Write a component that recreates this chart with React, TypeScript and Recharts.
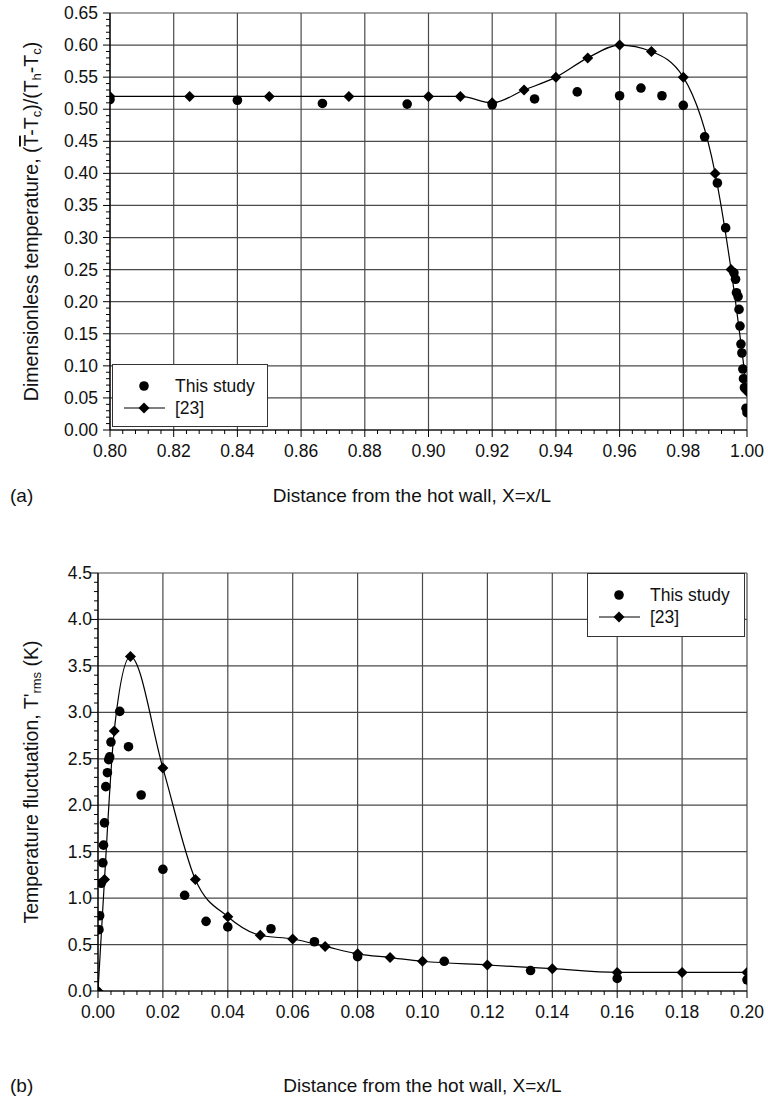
import React from 'react';
import { ComposedChart, Line, Scatter, XAxis, YAxis, CartesianGrid } from 'recharts';

const FONT = '"Liberation Sans", Arial, Helvetica, sans-serif';

// ---------- Chart (a): dimensionless temperature ----------
const aStudyX = [0.80, 0.84, 0.8667, 0.8933, 0.92, 0.9333, 0.9467, 0.96, 0.9667, 0.9733, 0.98, 0.9867, 0.9907, 0.9933, 0.9959, 0.9964, 0.9967, 0.9972, 0.9975, 0.9978, 0.9981, 0.9984, 0.9987, 0.9989, 0.9992, 0.9997, 1.0];
const aStudyY = [0.515, 0.514, 0.509, 0.508, 0.507, 0.516, 0.527, 0.521, 0.533, 0.521, 0.506, 0.457, 0.385, 0.315, 0.245, 0.235, 0.214, 0.208, 0.188, 0.162, 0.134, 0.120, 0.095, 0.080, 0.066, 0.034, 0.027];
const aRefX = [0.80, 0.825, 0.85, 0.875, 0.90, 0.91, 0.92, 0.93, 0.94, 0.95, 0.96, 0.97, 0.98, 0.99, 0.995, 1.0];
const aRefY = [0.52, 0.52, 0.52, 0.52, 0.52, 0.52, 0.51, 0.53, 0.55, 0.58, 0.60, 0.59, 0.55, 0.40, 0.25, 0.06];
const aXMajor = [0.80, 0.82, 0.84, 0.86, 0.88, 0.90, 0.92, 0.94, 0.96, 0.98, 1.00];
const aYMajor = [0, 0.05, 0.10, 0.15, 0.20, 0.25, 0.30, 0.35, 0.40, 0.45, 0.50, 0.55, 0.60, 0.65];
const aXMinorStep = 0.004;
const aYMinorStep = 0.01;

// ---------- Chart (b): temperature fluctuation ----------
const bStudyX = [0.0003, 0.0005, 0.001, 0.0015, 0.0017, 0.002, 0.0024, 0.0029, 0.0033, 0.0036, 0.004, 0.0067, 0.0094, 0.0133, 0.02, 0.0267, 0.0333, 0.04, 0.0533, 0.0667, 0.08, 0.1067, 0.1333, 0.16, 0.20];
const bStudyY = [0.66, 0.81, 1.16, 1.38, 1.57, 1.81, 2.20, 2.35, 2.49, 2.52, 2.68, 3.01, 2.63, 2.11, 1.31, 1.03, 0.75, 0.69, 0.67, 0.53, 0.37, 0.32, 0.22, 0.135, 0.12];
const bRefX = [0, 0.002, 0.005, 0.01, 0.02, 0.03, 0.04, 0.05, 0.06, 0.07, 0.08, 0.09, 0.10, 0.12, 0.14, 0.16, 0.18, 0.20];
const bRefY = [0, 1.2, 2.8, 3.6, 2.4, 1.2, 0.8, 0.6, 0.56, 0.48, 0.40, 0.36, 0.32, 0.28, 0.24, 0.20, 0.20, 0.20];
const bXMajor = [0, 0.02, 0.04, 0.06, 0.08, 0.10, 0.12, 0.14, 0.16, 0.18, 0.20];
const bYMajor = [0, 0.5, 1.0, 1.5, 2.0, 2.5, 3.0, 3.5, 4.0, 4.5];
const bXMinorStep = 0.004;
const bYMinorStep = 0.1;

const legendStudy = 'This study';
const legendRef = '[23]';

const zip = (xs: number[], ys: number[]) => xs.map((x, i) => ({ x, y: ys[i] }));
const aStudy = zip(aStudyX, aStudyY);
const aRef = zip(aRefX, aRefY);
const bStudy = zip(bStudyX, bStudyY);
const bRef = zip(bRefX, bRefY);

const buildTicks = (min: number, max: number, step: number) => {
  const n = Math.round((max - min) / step);
  const out: number[] = [];
  for (let i = 0; i <= n; i++) out.push(Math.round((min + i * step) * 1e6) / 1e6);
  return out;
};

const isMajor = (majors: number[], v: number) => majors.some((m) => Math.abs(m - v) < 1e-7);

const makeXTick = (majors: number[], digits: number, majorLen: number, minorLen: number, labelDy: number) => (props: any) => {
  const { x, y, payload } = props;
  const v = payload.value;
  const maj = isMajor(majors, v);
  return (
    <g>
      <line x1={x} y1={y} x2={x} y2={y + (maj ? majorLen : minorLen)} stroke="#000" strokeWidth={1} />
      {maj && (
        <text x={x} y={y + labelDy} textAnchor="middle" dominantBaseline="central" fontSize={17.5} fontFamily={FONT} fill="#111">
          {v.toFixed(digits)}
        </text>
      )}
    </g>
  );
};

const makeYTick = (majors: number[], digits: number, majorLen: number, minorLen: number, labelDx: number) => (props: any) => {
  const { x, y, payload } = props;
  const v = payload.value;
  const maj = isMajor(majors, v);
  return (
    <g>
      <line x1={x} y1={y} x2={x - (maj ? majorLen : minorLen)} y2={y} stroke="#000" strokeWidth={1} />
      {maj && (
        <text x={x - labelDx} y={y} textAnchor="end" dominantBaseline="central" fontSize={17.5} fontFamily={FONT} fill="#111">
          {v.toFixed(digits)}
        </text>
      )}
    </g>
  );
};

const Circle = (props: any) => <circle cx={props.cx} cy={props.cy} r={4.8} fill="#000" />;

const diamondPath = (cx: number, cy: number, r: number) => `M${cx},${cy - r}L${cx + r},${cy}L${cx},${cy + r}L${cx - r},${cy}Z`;

const Diamond = (props: any) => {
  const { cx, cy, index } = props;
  if (cx == null || cy == null) return <g key={`d-${index}`} />;
  return <path key={`d-${index}`} d={diamondPath(cx, cy, 5.5)} fill="#000" />;
};

const xTitle = (tag: string, dy: number, centerX?: number) => (props: any) => {
  const vb = props.viewBox || {};
  const cx = centerX ?? vb.x + vb.width / 2;
  const cy = vb.y + dy;
  return (
    <g>
      <text x={cx} y={cy} textAnchor="middle" dominantBaseline="central" fontSize={19} fontFamily={FONT} fill="#111">
        Distance from the hot wall, X=x/L
      </text>
      <text x={10} y={cy} textAnchor="start" dominantBaseline="central" fontSize={19} fontFamily={FONT} fill="#111">
        {tag}
      </text>
    </g>
  );
};

const yTitleA = (props: any) => {
  const vb = props.viewBox || {};
  const cx = 31;
  const cy = vb.y + vb.height / 2;
  return (
    <text x={cx} y={cy} transform={`rotate(-90 ${cx} ${cy})`} textAnchor="middle" dominantBaseline="central" fontSize={19.5} fontFamily={FONT} fill="#111">
      Dimensionless temperature, (<tspan style={{ textDecoration: 'overline' }}>T</tspan>-T
      <tspan dy={5} fontSize={13}>c</tspan>
      <tspan dy={-5}>)/(T</tspan>
      <tspan dy={5} fontSize={13}>h</tspan>
      <tspan dy={-5}>-T</tspan>
      <tspan dy={5} fontSize={13}>c</tspan>
      <tspan dy={-5}>)</tspan>
    </text>
  );
};

const yTitleB = (props: any) => {
  const vb = props.viewBox || {};
  const cx = 31;
  const cy = vb.y + vb.height / 2;
  return (
    <text x={cx} y={cy} transform={`rotate(-90 ${cx} ${cy})`} textAnchor="middle" dominantBaseline="central" fontSize={19.5} fontFamily={FONT} fill="#111">
      Temperature fluctuation, T'
      <tspan dy={5} fontSize={13}>rms</tspan>
      <tspan dy={-5}> (K)</tspan>
    </text>
  );
};

const LegendBox = ({ left, top, width, height }: { left: number; top: number; width: number; height: number }) => (
  <div
    style={{
      position: 'absolute',
      left,
      top,
      width,
      height,
      border: '1.5px solid #333',
      background: '#fff',
      boxSizing: 'border-box',
    }}
  >
    <svg width={width} height={height} style={{ position: 'absolute', left: 0, top: 0 }}>
      <circle cx={31} cy={21} r={4.8} fill="#000" />
      <line x1={11} x2={52} y1={43} y2={43} stroke="#000" strokeWidth={1.2} />
      <path d={diamondPath(31, 43, 5.5)} fill="#000" />
      <text x={62} y={21} dominantBaseline="central" fontSize={17.5} fontFamily={FONT} fill="#111">
        {legendStudy}
      </text>
      <text x={62} y={43} dominantBaseline="central" fontSize={17.5} fontFamily={FONT} fill="#111">
        {legendRef}
      </text>
    </svg>
  </div>
);

export default function App() {
  return (
    <div style={{ position: 'absolute', left: 0, top: 0, width: 768, height: 1108, background: '#fff' }}>
      <div style={{ position: 'absolute', left: 0, top: 0 }}>
        <ComposedChart width={768} height={540} margin={{ top: 13, right: 21, bottom: 0, left: 0 }}>
          <CartesianGrid stroke="#4a4a4a" strokeWidth={1.2} horizontalValues={aYMajor} verticalValues={aXMajor} />
          <XAxis
            type="number"
            dataKey="x"
            domain={[0.8, 1.0]}
            ticks={buildTicks(0.8, 1.0, aXMinorStep)}
            interval={0}
            tickSize={0}
            tickMargin={0}
            tickLine={false}
            axisLine={{ stroke: '#000', strokeWidth: 1.2 }}
            height={110}
            allowDataOverflow
            tick={makeXTick(aXMajor, 2, 7, 4, 21)}
            label={{ content: xTitle('(a)', 65, 412) }}
          />
          <YAxis
            type="number"
            dataKey="y"
            domain={[0, 0.65]}
            ticks={buildTicks(0, 0.65, aYMinorStep)}
            interval={0}
            tickSize={0}
            tickMargin={0}
            tickLine={false}
            axisLine={{ stroke: '#000', strokeWidth: 1.2 }}
            width={110}
            allowDataOverflow
            tick={makeYTick(aYMajor, 2, 7, 4, 12)}
            label={{ content: yTitleA }}
          />
          <Line data={aRef} dataKey="y" type="monotone" stroke="#000" strokeWidth={1.2} dot={Diamond} activeDot={false} isAnimationActive={false} />
          <Scatter data={aStudy} dataKey="y" fill="#000" shape={Circle} isAnimationActive={false} />
        </ComposedChart>
      </div>
      <LegendBox left={112} top={364} width={156} height={63} />

      <div style={{ position: 'absolute', left: 0, top: 540 }}>
        <ComposedChart width={768} height={568} margin={{ top: 33, right: 21, bottom: 0, left: 0 }}>
          <CartesianGrid stroke="#4a4a4a" strokeWidth={1.2} horizontalValues={bYMajor} verticalValues={bXMajor} />
          <XAxis
            type="number"
            dataKey="x"
            domain={[0, 0.2]}
            ticks={buildTicks(0, 0.2, bXMinorStep)}
            interval={0}
            tickSize={0}
            tickMargin={0}
            tickLine={false}
            axisLine={{ stroke: '#000', strokeWidth: 1.2 }}
            height={117}
            allowDataOverflow
            tick={makeXTick(bXMajor, 2, 7, 4, 21)}
            label={{ content: xTitle('(b)', 94) }}
          />
          <YAxis
            type="number"
            dataKey="y"
            domain={[0, 4.5]}
            ticks={buildTicks(0, 4.5, bYMinorStep)}
            interval={0}
            tickSize={0}
            tickMargin={0}
            tickLine={false}
            axisLine={{ stroke: '#000', strokeWidth: 1.2 }}
            width={98}
            allowDataOverflow
            tick={makeYTick(bYMajor, 1, 8, 4, 6)}
            label={{ content: yTitleB }}
          />
          <Line data={bRef} dataKey="y" type="monotone" stroke="#000" strokeWidth={1.2} dot={Diamond} activeDot={false} isAnimationActive={false} />
          <Scatter data={bStudy} dataKey="y" fill="#000" shape={Circle} isAnimationActive={false} />
        </ComposedChart>
      </div>
      <LegendBox left={587} top={573} width={158} height={64} />
    </div>
  );
}
